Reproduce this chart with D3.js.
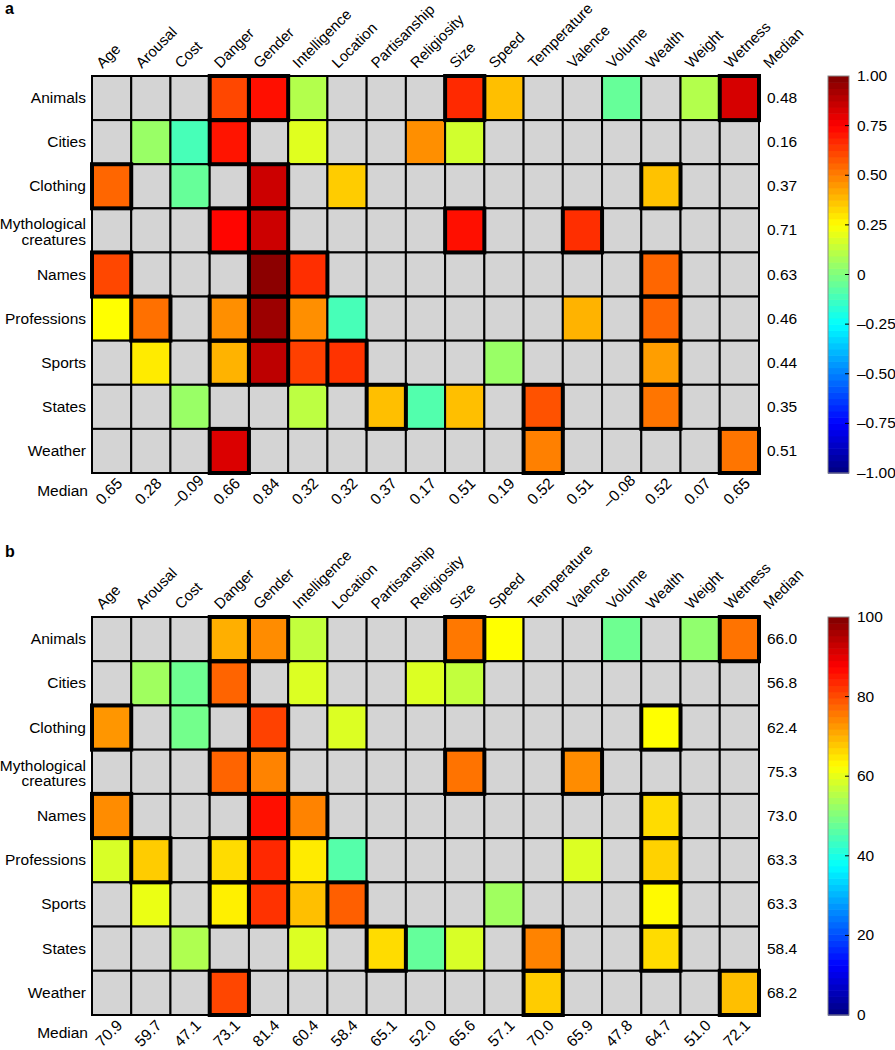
<!DOCTYPE html>
<html>
<head>
<meta charset="utf-8">
<script src="https://cdn.jsdelivr.net/npm/d3@7"></script>
<style>
  body { margin: 0; background: #fff; }
  svg text { font-family: "Liberation Sans", Arial, Helvetica, sans-serif; fill: #000; }
</style>
</head>
<body>
<svg id="chart" width="895" height="1050"></svg>
<script>
const features = ["Age","Arousal","Cost","Danger","Gender","Intelligence","Location","Partisanship","Religiosity","Size","Speed","Temperature","Valence","Volume","Wealth","Weight","Wetness"];
const categories = ["Animals","Cities","Clothing","Mythological creatures","Names","Professions","Sports","States","Weather"];

// Panel a: correlations (null = not tested, grey)
const valuesA = [
  [null,null,null,0.61,0.72,0.10,null,null,null,0.67,0.375,null,null,-0.05,null,0.10,0.83],
  [null,0.05,-0.11,0.71,null,0.19,null,null,0.47,0.16,null,null,null,null,null,null,null],
  [0.55,null,-0.05,null,0.85,null,0.35,null,null,null,null,null,null,null,0.37,null,null],
  [null,null,null,0.74,0.85,null,null,null,null,0.72,null,null,0.66,null,null,null,null],
  [0.61,null,null,null,0.975,0.66,null,null,null,null,null,null,null,null,0.55,null,null],
  [0.25,0.53,null,0.47,0.945,0.47,-0.11,null,null,null,null,null,0.40,null,0.55,null,null],
  [null,0.29,null,0.40,0.88,0.625,0.65,null,null,null,0.05,null,null,null,0.44,null,null],
  [null,null,0.05,null,null,0.12,null,0.375,-0.09,0.375,null,0.59,null,null,0.52,null,null],
  [null,null,null,0.82,null,null,null,null,null,null,null,0.50,null,null,null,null,0.52]
];
const rowMedianA = ["0.48","0.16","0.37","0.71","0.63","0.46","0.44","0.35","0.51"];
const colMedianA = ["0.65","0.28","\u20130.09","0.66","0.84","0.32","0.32","0.37","0.17","0.51","0.19","0.52","0.51","\u20130.08","0.52","0.07","0.65"];
const ticksA = [1, 0.75, 0.5, 0.25, 0, -0.25, -0.5, -0.75, -1];
const tickLabelsA = ["1.00","0.75","0.50","0.25","0","\u20130.25","\u20130.50","\u20130.75","\u20131.00"];

// Panel b: accuracy (%)
const valuesB = [
  [null,null,null,70.3,73.8,56.5,null,null,null,75.7,62.5,null,null,48.3,null,51.7,76.2],
  [null,53.2,48.3,77.7,null,59.1,null,null,59.1,56.5,null,null,null,null,null,null,null],
  [72.8,null,48.8,null,81.1,null,59.1,null,null,null,null,null,null,null,62.5,null,null],
  [null,null,null,77.7,74.7,null,null,null,null,76.2,null,null,73.8,null,null,null,null],
  [73.8,null,null,null,86.0,74.7,null,null,null,null,null,null,null,null,65.9,null,null],
  [58.7,67.5,null,65.9,83.6,64.5,45.8,null,null,null,null,null,59.1,null,66.9,null,null],
  [null,60.5,null,64.0,82.6,68.8,78.2,null,null,null,53.2,null,null,null,63.0,null,null],
  [null,null,54.7,null,null,59.1,null,65.9,47.3,58.7,null,74.7,null,null,65.9,null,null],
  [null,null,null,80.6,null,null,null,null,null,null,null,67.5,null,null,null,null,68.8]
];
const rowMedianB = ["66.0","56.8","62.4","75.3","73.0","63.3","63.3","58.4","68.2"];
const colMedianB = ["70.9","59.7","47.1","73.1","81.4","60.4","58.4","65.1","52.0","65.6","57.1","70.0","65.9","47.8","64.7","51.0","72.1"];
const ticksB = [100, 80, 60, 40, 20, 0];
const tickLabelsB = ["100","80","60","40","20","0"];

// Cells outlined with a heavy border (same in both panels)
const boxed = [
  ["Animals","Danger"],["Animals","Gender"],["Animals","Size"],["Animals","Wetness"],
  ["Cities","Danger"],
  ["Clothing","Age"],["Clothing","Gender"],["Clothing","Wealth"],
  ["Mythological creatures","Danger"],["Mythological creatures","Gender"],["Mythological creatures","Size"],["Mythological creatures","Valence"],
  ["Names","Age"],["Names","Gender"],["Names","Intelligence"],["Names","Wealth"],
  ["Professions","Arousal"],["Professions","Danger"],["Professions","Gender"],["Professions","Wealth"],
  ["Sports","Danger"],["Sports","Gender"],["Sports","Location"],["Sports","Wealth"],
  ["States","Partisanship"],["States","Temperature"],["States","Wealth"],
  ["Weather","Danger"],["Weather","Temperature"],["Weather","Wetness"]
];

function jet(t) {
  const c = v => Math.max(0, Math.min(1, v));
  const r = c(1.5 - Math.abs(4 * t - 3));
  const g = c(1.5 - Math.abs(4 * t - 2));
  const b = c(1.5 - Math.abs(4 * t - 1));
  return d3.rgb(Math.round(r * 255), Math.round(g * 255), Math.round(b * 255)).toString();
}

const svg = d3.select("#chart");
const GREY = "#d4d4d4";
const FS = 15.5;

function panel(opts) {
  const { top, bottom, letter, letterY, values, rowMed, colMed, domain, ticks, tickLabels } = opts;
  const g = svg.append("g");
  const x = d3.scaleBand().domain(features).range([92, 759]);
  const y = d3.scaleBand().domain(categories).range([top, bottom]);
  const color = d3.scaleSequential(jet).domain(domain);
  const bw = x.bandwidth(), bh = y.bandwidth();

  g.append("text").attr("x", 5).attr("y", letterY).attr("font-size", 16).attr("font-weight", "bold").text(letter);

  // cells
  const cells = [];
  categories.forEach((c, i) => features.forEach((f, j) => cells.push({ c, f, v: values[i][j] })));
  g.selectAll("rect.cell").data(cells).join("rect")
    .attr("class", "cell")
    .attr("x", d => x(d.f)).attr("y", d => y(d.c))
    .attr("width", bw).attr("height", bh)
    .attr("fill", d => d.v === null ? GREY : color(d.v))
    .attr("stroke", "#000").attr("stroke-width", 2);

  // heavy outlines
  g.selectAll("rect.box").data(boxed).join("rect")
    .attr("class", "box")
    .attr("x", d => x(d[1])).attr("y", d => y(d[0]))
    .attr("width", bw).attr("height", bh)
    .attr("fill", "none").attr("stroke", "#000").attr("stroke-width", 4);

  // column headers
  const headers = features.concat(["Median"]);
  g.selectAll("text.colh").data(headers).join("text")
    .attr("class", "colh")
    .attr("font-size", 15)
    .attr("transform", (d, j) => `translate(${92 + j * bw + bw / 2 - 9},${top - 7}) rotate(-45)`)
    .text(d => d);

  // row labels
  categories.forEach(c => {
    const cy = y(c) + bh / 2;
    const t = g.append("text").attr("font-size", FS).attr("text-anchor", "end").attr("x", 86);
    if (c === "Mythological creatures") {
      t.append("tspan").attr("x", 86).attr("y", cy - 1).text("Mythological");
      t.append("tspan").attr("x", 86).attr("y", cy + 14.5).text("creatures");
    } else {
      t.attr("y", cy + 5).text(c);
    }
  });

  // row medians
  g.selectAll("text.rmed").data(rowMed).join("text")
    .attr("class", "rmed")
    .attr("font-size", FS)
    .attr("x", 767)
    .attr("y", (d, i) => y(categories[i]) + bh / 2 + 5)
    .text(d => d);

  // column medians
  g.append("text").attr("font-size", FS).attr("text-anchor", "end")
    .attr("x", 88).attr("y", bottom + 23).text("Median");
  g.selectAll("text.cmed").data(colMed).join("text")
    .attr("class", "cmed")
    .attr("font-size", FS)
    .attr("text-anchor", "middle")
    .attr("transform", (d, j) => `translate(${x(features[j]) + bw / 2 + 1},${bottom + 22}) rotate(-45)`)
    .text(d => d);

  // colorbar
  const cbx = 828, cbw = 21;
  const cy = d3.scaleLinear().domain(domain).range([bottom, top]);
  const N = 64;
  const steps = d3.range(N);
  const span = domain[1] - domain[0];
  g.selectAll("rect.cb").data(steps).join("rect")
    .attr("class", "cb")
    .attr("x", cbx)
    .attr("y", k => cy(domain[0] + (k + 1) * span / N))
    .attr("width", cbw)
    .attr("height", k => cy(domain[0] + k * span / N) - cy(domain[0] + (k + 1) * span / N) + 0.6)
    .attr("fill", k => color(domain[0] + (k + 0.5) * span / N));
  g.append("rect").attr("x", cbx).attr("y", top).attr("width", cbw).attr("height", bottom - top)
    .attr("fill", "none").attr("stroke", "#888").attr("stroke-width", 1);
  g.selectAll("line.cbt").data(ticks.slice(1, -1)).join("line")
    .attr("class", "cbt")
    .attr("x1", cbx + cbw - 4).attr("x2", cbx + cbw)
    .attr("y1", d => cy(d)).attr("y2", d => cy(d))
    .attr("stroke", "#000").attr("stroke-width", 1);
  g.selectAll("text.cbl").data(ticks).join("text")
    .attr("class", "cbl")
    .attr("font-size", FS)
    .attr("x", cbx + cbw + 8)
    .attr("y", d => cy(d) + 5)
    .text((d, i) => tickLabels[i]);
}

panel({ top: 76, bottom: 473, letter: "a", letterY: 14, values: valuesA, rowMed: rowMedianA, colMed: colMedianA,
        domain: [-1, 1], ticks: ticksA, tickLabels: tickLabelsA });
panel({ top: 617, bottom: 1015, letter: "b", letterY: 557, values: valuesB, rowMed: rowMedianB, colMed: colMedianB,
        domain: [0, 100], ticks: ticksB, tickLabels: tickLabelsB });
</script>
</body>
</html>
